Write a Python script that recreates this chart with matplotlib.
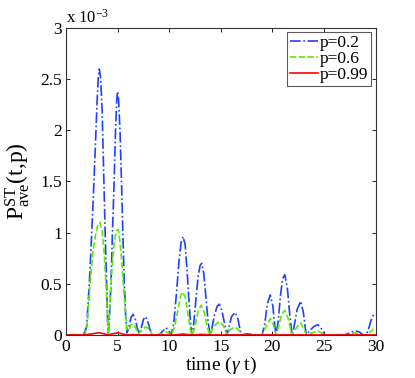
import numpy as np
import matplotlib
matplotlib.use("Agg")
import matplotlib.pyplot as plt

plt.rcParams["font.family"] = ["Liberation Serif", "DejaVu Serif"]
plt.rcParams["mathtext.fontset"] = "custom"
plt.rcParams["mathtext.rm"] = "Liberation Serif"
plt.rcParams["mathtext.it"] = "Liberation Serif:italic"

# values, in units of 1e-3
t_blue = [0, 1.5, 1.8, 2.0, 2.26, 2.45, 2.65, 2.85, 3.0, 3.12, 3.23, 3.35, 3.5, 3.71, 3.85, 3.94, 4.03, 4.1,
          4.2, 4.36, 4.5, 4.65, 4.8, 4.92, 5.0, 5.1, 5.25, 5.4, 5.55, 5.65, 5.8, 5.92,
          6.1, 6.3, 6.5, 6.7, 6.9, 7.1, 7.3, 7.5, 7.7, 7.9, 8.15, 8.4, 9.0, 9.3, 9.7, 9.95, 10.2,
          10.45, 10.7, 10.95, 11.15, 11.35, 11.55, 11.75, 11.95, 12.1, 12.2,
          12.35, 12.55, 12.8, 13.0, 13.15, 13.35, 13.55, 13.75, 13.95,
          14.15, 14.4, 14.65, 14.86, 15.1, 15.35, 15.6, 15.8, 16.05, 16.4, 16.65, 16.85, 17.0,
          17.5, 18.5, 19.0, 19.25, 19.5, 19.8, 20.05, 20.2, 20.35, 20.55, 20.8, 21.0, 21.2, 21.45, 21.7, 21.9,
          22.1, 22.4, 22.75, 23.0, 23.2, 23.3, 23.6, 24.0, 24.4, 24.7, 25.1, 26.0, 27.0, 27.5, 28.0, 28.4, 28.8,
          29.07, 29.3, 29.55, 29.8, 30.0]
p_blue = [0, 0, 0.02, 0.08, 0.5, 0.9, 1.35, 1.85, 2.25, 2.5, 2.6, 2.52, 2.2, 1.35, 0.8, 0.5, 0.15, 0.02,
          0.15, 0.5, 1.0, 1.45, 2.0, 2.3, 2.38, 2.3, 1.95, 1.42, 0.85, 0.5, 0.15, 0.02,
          0.08, 0.17, 0.2, 0.16, 0.07, 0.01, 0.07, 0.15, 0.18, 0.14, 0.05, 0.0, 0.0, 0.03, 0.07, 0.04, 0.0,
          0.12, 0.4, 0.72, 0.9, 0.96, 0.88, 0.6, 0.28, 0.08, 0.0,
          0.08, 0.3, 0.57, 0.68, 0.7, 0.6, 0.38, 0.15, 0.0,
          0.07, 0.2, 0.28, 0.3, 0.24, 0.12, 0.0, 0.08, 0.18, 0.22, 0.16, 0.06, 0.0,
          0.01, 0.0, 0.0, 0.1, 0.3, 0.39, 0.28, 0.12, 0.0, 0.12, 0.4, 0.55, 0.59, 0.46, 0.18, 0.0,
          0.08, 0.25, 0.33, 0.22, 0.06, 0.0, 0.04, 0.08, 0.1, 0.07, 0.0, 0.0, 0.0, 0.02, 0.04, 0.03, 0.0,
          0.0, 0.05, 0.14, 0.2, 0.19]

t_green = [0, 1.84, 2.05, 2.33, 2.6, 2.9, 3.1, 3.3, 3.5, 3.7, 3.9, 4.05, 4.12,
           4.25, 4.45, 4.7, 4.9, 5.05, 5.25, 5.45, 5.7, 5.9,
           6.1, 6.3, 6.5, 6.75, 7.0, 7.3, 7.7, 8.0, 8.4, 9.3, 9.7, 10.2,
           10.5, 10.8, 11.1, 11.3, 11.55, 11.8, 12.05, 12.25, 12.45, 12.8, 13.1, 13.4, 13.7, 13.95,
           14.3, 14.8, 15.2, 15.6, 15.9, 16.4, 16.8, 17.0, 19.0, 19.4, 19.8, 20.1, 20.35,
           20.6, 20.9, 21.2, 21.5, 21.9, 22.2, 22.7, 23.0, 23.3, 24.4, 25.1, 27.3, 28.0, 28.6,
           29.07, 29.5, 29.8, 30.0]
p_green = [0, 0, 0.1, 0.5, 0.8, 1.0, 1.08, 1.1, 1.02, 0.8, 0.45, 0.1, 0.03,
           0.3, 0.65, 0.93, 1.02, 1.03, 0.9, 0.65, 0.3, 0.05,
           0.05, 0.1, 0.11, 0.07, 0.01, 0.04, 0.08, 0.06, 0.0, 0.01, 0.03, 0.0,
           0.07, 0.22, 0.38, 0.42, 0.37, 0.22, 0.05, 0.0, 0.06, 0.23, 0.29, 0.22, 0.07, 0.0,
           0.08, 0.13, 0.1, 0.0, 0.05, 0.08, 0.04, 0.0, 0.0, 0.08, 0.16, 0.1, 0.0,
           0.08, 0.2, 0.24, 0.17, 0.0, 0.05, 0.12, 0.07, 0.0, 0.04, 0.0, 0.0, 0.02, 0.0,
           0.0, 0.03, 0.06, 0.06]

t_red = [0, 1.8, 2.5, 3.2, 3.8, 4.1, 4.5, 5.0, 5.6, 5.9, 6.5, 7.1, 10.5, 11.3, 12.2, 13.1, 14.0, 30.0]
p_red = [0, 0, 0.01, 0.022, 0.008, 0.0, 0.01, 0.02, 0.006, 0.0, 0.003, 0.0, 0.0, 0.008, 0.0, 0.005, 0.0, 0.0]

labels = ["p=0.2", "p=0.6", "p=0.99"]
xticks = [0, 5, 10, 15, 20, 25, 30]
yticks = [0, 0.5, 1, 1.5, 2, 2.5, 3]

fig = plt.figure(figsize=(4.15, 3.78), dpi=100)
ax = fig.add_axes([0.159, 0.114, 0.746, 0.812])

ax.plot(t_blue, p_blue, ls="-.", color="#2040ff", lw=1.2, label=labels[0])
ax.plot(t_green, p_green, ls="--", color="#55ee00", lw=1.2, label=labels[1])
ax.plot(t_red, p_red, ls="-", color="#ff0000", lw=1.2, label=labels[2])

ax.set_xlim(0, 30)
ax.set_ylim(0, 3)
ax.set_xticks(xticks)
ax.set_yticks(yticks)
ax.set_yticklabels([f"{v:g}" for v in yticks])
ax.tick_params(direction="in", top=True, right=True, labelsize=12.5, length=3, width=0.6, pad=3)
for s in ax.spines.values():
    s.set_linewidth(0.8)
    s.set_color("#333333")

ax.text(0.0, 1.005, r"x 10$^{-3}$", transform=ax.transAxes, fontsize=12, ha="left", va="bottom")
ax.set_xlabel(r"time ($\gamma$ t)", fontsize=14, labelpad=0)
ax.set_ylabel(r"P$^{\rm ST}_{\rm ave}$(t,p)", fontsize=17, labelpad=6)

leg = ax.legend(loc="upper right", fontsize=12.5, frameon=True, fancybox=False,
                handlelength=1.6, handletextpad=0.15, borderpad=0.15, labelspacing=0.0,
                borderaxespad=0.25)
leg.get_frame().set_edgecolor("#333333")
leg.get_frame().set_linewidth(0.8)

fig.savefig("out.png", dpi=100)
